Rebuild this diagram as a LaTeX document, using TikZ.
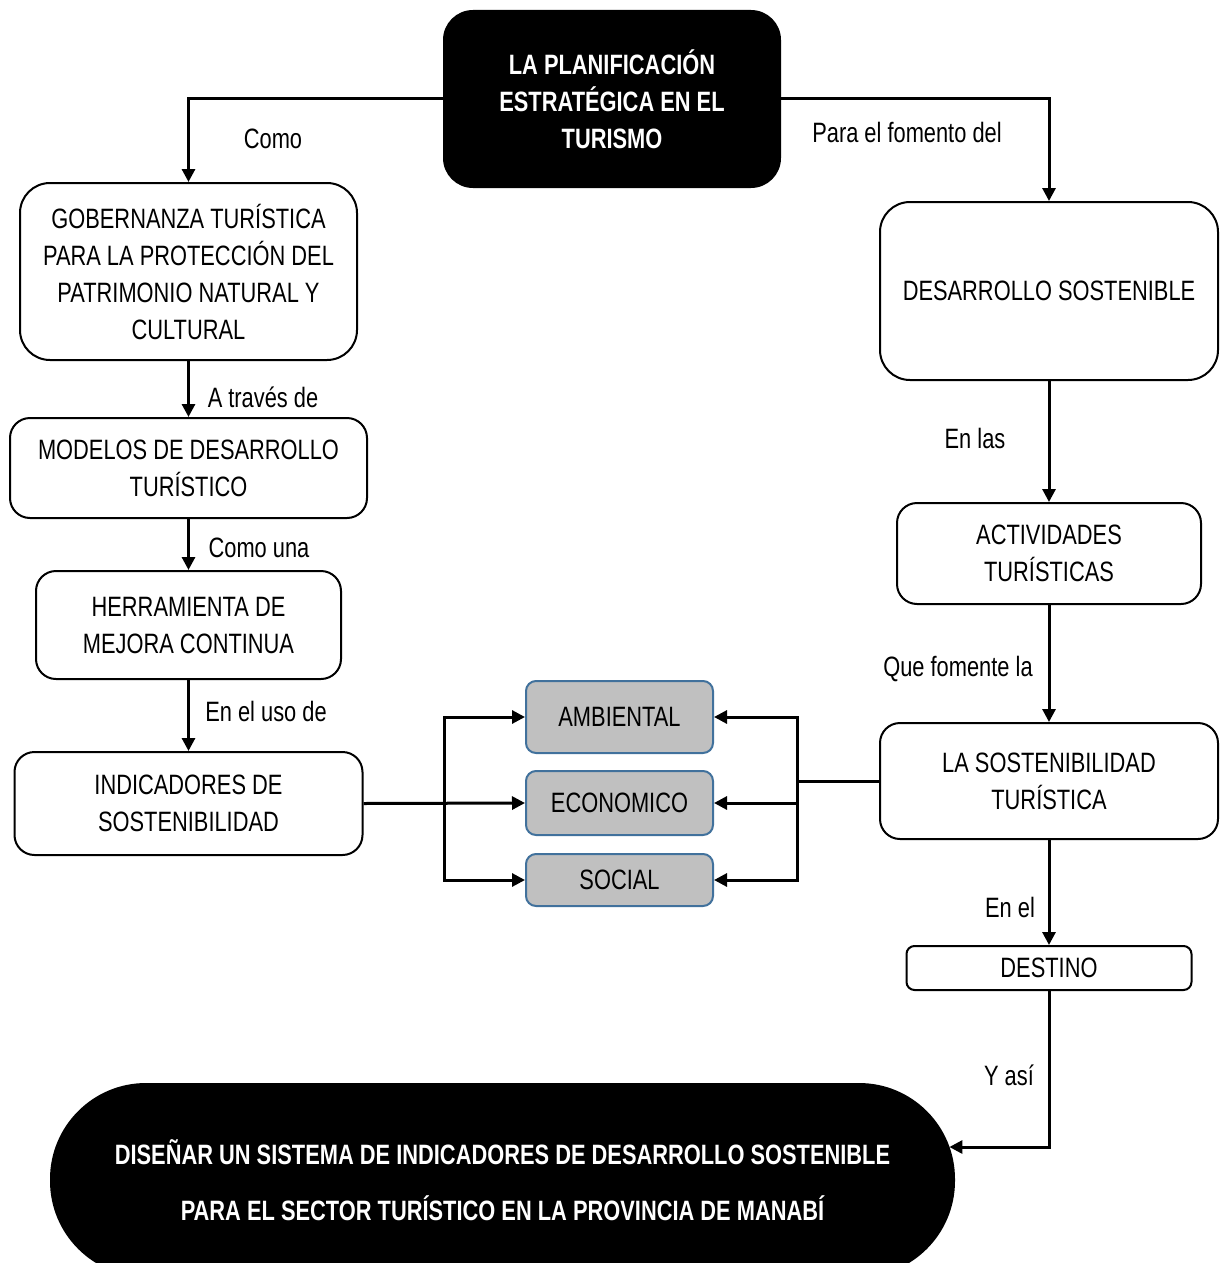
\documentclass[tikz,border=0pt]{standalone}
\usepackage{fontspec}
\setmainfont{Liberation Sans}[FakeStretch=0.78]
\usetikzlibrary{arrows.meta}
\definecolor{grisbox}{RGB}{192,192,192}
\definecolor{azulborde}{RGB}{65,113,156}

\begin{document}
\begin{tikzpicture}[x=0.5pt,y=-0.5pt,
  caja/.style={draw,line width=1pt,rounded corners=#1,align=center,inner sep=0pt,
    font=\fontsize{14pt}{18.5pt}\selectfont},
  caja/.default=10pt,
  negra/.style={fill=black,text=white,rounded corners=#1,align=center,inner sep=0pt,
    font=\bfseries\fontsize{14pt}{18.5pt}\selectfont},
  gris/.style={draw=azulborde,fill=grisbox,line width=1pt,rounded corners=5pt,
    inner sep=0pt,minimum width=93.5pt,font=\fontsize{14pt}{17pt}\selectfont},
  flecha/.style={line width=1.5pt,-{Triangle[length=6.5pt,width=6.5pt]}},
  linea/.style={line width=1.5pt},
  etiq/.style={inner sep=0pt,font=\fontsize{14pt}{17pt}\selectfont}]
  \useasboundingbox (0,0) rectangle (1221,1263);
  \clip (0,0) rectangle (1221,1263);

  % cajas
  \node[negra=15pt,minimum width=169pt,minimum height=89pt] (plan) at (612,99)
    {LA PLANIFICACIÓN\\ESTRATÉGICA EN EL\\TURISMO};
  \node[caja=15pt,minimum width=168.5pt,minimum height=88.5pt] (gob) at (188.5,271.5)
    {GOBERNANZA TURÍSTICA\\PARA LA PROTECCIÓN DEL\\PATRIMONIO NATURAL Y\\CULTURAL};
  \node[caja,minimum width=178.5pt,minimum height=50pt] (mod) at (188.5,468)
    {MODELOS DE DESARROLLO\\TURÍSTICO};
  \node[caja,minimum width=152.5pt,minimum height=54pt] (herr) at (188.5,625)
    {HERRAMIENTA DE\\MEJORA CONTINUA};
  \node[caja,minimum width=174pt,minimum height=51.5pt] (ind) at (188.5,803.5)
    {INDICADORES DE\\SOSTENIBILIDAD};
  \node[caja=15pt,minimum width=169pt,minimum height=89pt] (des) at (1049,291)
    {DESARROLLO SOSTENIBLE};
  \node[caja,minimum width=152pt,minimum height=50.5pt] (act) at (1049,553.5)
    {ACTIVIDADES\\TURÍSTICAS};
  \node[caja,minimum width=169pt,minimum height=58pt] (sost) at (1049,781)
    {LA SOSTENIBILIDAD\\TURÍSTICA};
  \node[caja=4pt,minimum width=142.5pt,minimum height=22pt] (dest) at (1049,968)
    {DESTINO};
  \node[gris,minimum height=36pt] (amb) at (619.5,717) {AMBIENTAL};
  \node[gris,minimum height=32pt] (eco) at (619.5,803) {ECONOMICO};
  \node[gris,minimum height=26pt] (soc) at (619.5,880) {SOCIAL};
  \node[negra=48pt,minimum width=452.5pt,minimum height=97pt] (meta) at (502.5,1180)
    {DISEÑAR UN SISTEMA DE INDICADORES DE DESARROLLO SOSTENIBLE\\[9.5pt]
     PARA EL SECTOR TURÍSTICO EN LA PROVINCIA DE MANABÍ};

  % etiquetas
  \node[etiq] (lcomo) at (273,139) {Como};
  \node[etiq] (lpara) at (907,132) {Para el fomento del};
  \node[etiq] (ltraves) at (263,397) {A través de};
  \node[etiq] (lcomouna) at (259,548) {Como una};
  \node[etiq] (luso) at (266,711) {En el uso de};
  \node[etiq] (llas) at (975,438) {En las};
  \node[etiq] (lque) at (958,669) {Que fomente la};
  \node[etiq] (lenel) at (1010,907) {En el};
  \node[etiq] (lasi) at (1009,1075) {Y así};

  % conectores
  \coordinate (jl) at (444,803);
  \coordinate (jr) at (797,781);
  \draw[flecha] (plan.west) -| (gob.north);
  \draw[flecha] (plan.east) -| (des.north);
  \draw[flecha] (gob) -- (mod);
  \draw[flecha] (mod) -- (herr);
  \draw[flecha] (herr) -- (ind);
  \draw[flecha] (des) -- (act);
  \draw[flecha] (act) -- (sost);
  \draw[flecha] (sost) -- (dest);
  \draw[flecha] (dest.south) |- ([xshift=-3pt,yshift=16.5pt]meta.east);
  \draw[flecha] (ind.east) -- (eco.west);
  \draw[flecha] (jl) |- (amb.west);
  \draw[flecha] (jl) |- (soc.west);
  \draw[linea] (sost.west) -- (jr);
  \draw[flecha] (jr) |- (amb.east);
  \draw[flecha] (jr) |- (eco.east);
  \draw[flecha] (jr) |- (soc.east);
\end{tikzpicture}
\end{document}
